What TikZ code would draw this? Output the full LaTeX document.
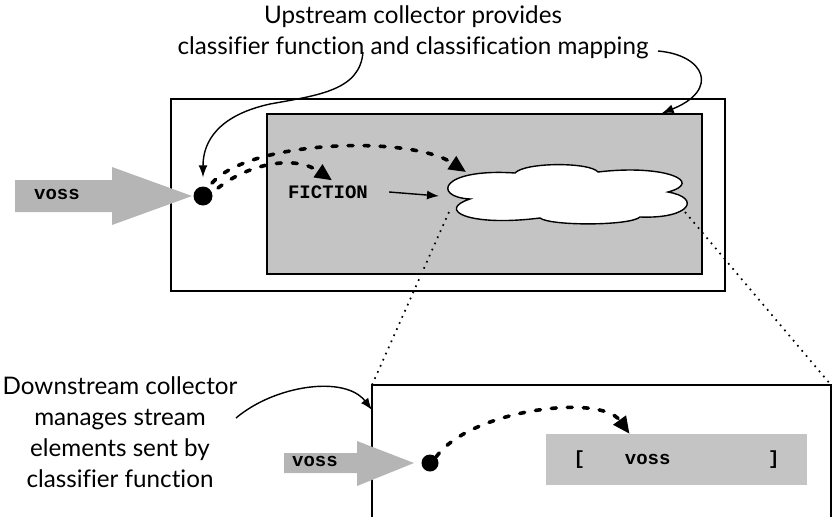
\documentclass[tikz,border=0pt]{standalone}
\usepackage{fontspec}
\setmainfont{Lato}[Ligatures=NoCommon]
\setmonofont{Liberation Mono}
\usetikzlibrary{arrows.meta}

\definecolor{cinzaCaixa}{RGB}{196,196,196}
\definecolor{cinzaSeta}{RGB}{181,181,181}

\tikzset{
  caixa/.style={draw, line width=1.4pt},
  ponto/.style={circle, fill=black, inner sep=0pt, minimum size=19pt},
  rotulo/.style={font=\fontsize{24.2}{31}\selectfont, align=center},
  codigo/.style={font=\ttfamily\bfseries\fontsize{19}{21}\selectfont, inner sep=1pt},
  tracejado/.style={line width=3.6pt, dash pattern=on 5pt off 11pt, line cap=round, -{Triangle[length=17pt,width=15pt]}},
  seta/.style={line width=1.4pt, -{Latex[length=12pt,width=9pt]}},
  pontilhado/.style={line width=1.7pt, dash pattern=on 1.7pt off 5pt},
}

\begin{document}
\begin{tikzpicture}[x=1pt, y=-1pt]
    \useasboundingbox (0,0) rectangle (833,517);

    % Coletor de cima
    \draw[caixa] (171,99) rectangle (725,291);
    \node[caixa, fill=cinzaCaixa, minimum width=435pt, minimum height=160pt, inner sep=0pt] (innerBox) at (484.5,194) {};

    % Seta de entrada
    \fill[cinzaSeta] (15,180) -- (112,180) -- (112,167) -- (192,196) -- (112,225) -- (112,212) -- (15,212) -- cycle;
    \node[codigo] (vossA) at (57,194) {voss};
    \node[ponto] (dotA) at (203,196) {};

    % Nuvem
    \draw[line width=1.4pt, fill=white] (470,199) .. controls (432,197) and (440,168) .. (515,173)
        .. controls (525,162) and (590,162) .. (598,172)
        .. controls (665,164) and (705,182) .. (668,192)
        .. controls (702,198) and (690,219) .. (640,217)
        .. controls (630,226) and (550,226) .. (540,218)
        .. controls (468,227) and (436,210) .. (470,199) -- cycle;
    \coordinate (cloudNW) at (466,172);
    \coordinate (cloudW) at (439,196);
    \coordinate (cloudSW) at (449,212);
    \coordinate (cloudSE) at (685,212);

    \node[codigo] (fiction) at (328,192) {FICTION};

    \draw[tracejado] (212,183) .. controls (250,140) and (410,135) .. (cloudNW);
    \draw[tracejado] (218,188) .. controls (250,163) and (295,155) .. ([xshift=4pt,yshift=4pt]fiction.north);
    \draw[seta] ([xshift=20pt]fiction.east) -- (cloudW);

    % Coletor de baixo
    \coordinate (lowTL) at (372,385);
    \coordinate (lowTR) at (831,385);
    \draw[caixa] (372,517) -- (lowTL) -- (lowTR) -- (831,517);
    \draw[pontilhado] (cloudSW) -- (lowTL);
    \draw[pontilhado] (cloudSE) -- (lowTR);

    \fill[cinzaSeta] (284,453) -- (357,453) -- (357,441) -- (414,463) -- (357,486) -- (357,473) -- (284,473) -- cycle;
    \node[codigo] (vossB) at (315,461) {voss};
    \node[ponto, minimum size=17pt] (dotB) at (430,463) {};

    \node[fill=cinzaCaixa, minimum width=261pt, minimum height=51pt, codigo] (slot) at (676.5,459.5)
        {\makebox[206pt][l]{[\hspace{40pt}voss\hfill]}};
    \draw[tracejado] (dotB.north east) .. controls (470,410) and (600,393) .. ([xshift=-47pt]slot.north);

    % Textos
    \node[rotulo] (upText) at (413,32) {Upstream collector provides\\classifier function and classification mapping};
    \node[rotulo] (downText) at (120,432) {Downstream collector\\manages stream\\elements sent by\\classifier function};

    \draw[seta] (363,52) .. controls (360,90) and (320,95) .. (270,104)
        .. controls (220,115) and (203,140) .. ([yshift=9pt]dotA.north);
    \draw[seta] (658,51) .. controls (705,55) and (720,90) .. ([xshift=-41pt]innerBox.north east);
    \draw[seta] (236,418) .. controls (275,385) and (345,375) .. ([yshift=-25pt]lowTL);
\end{tikzpicture}
\end{document}
